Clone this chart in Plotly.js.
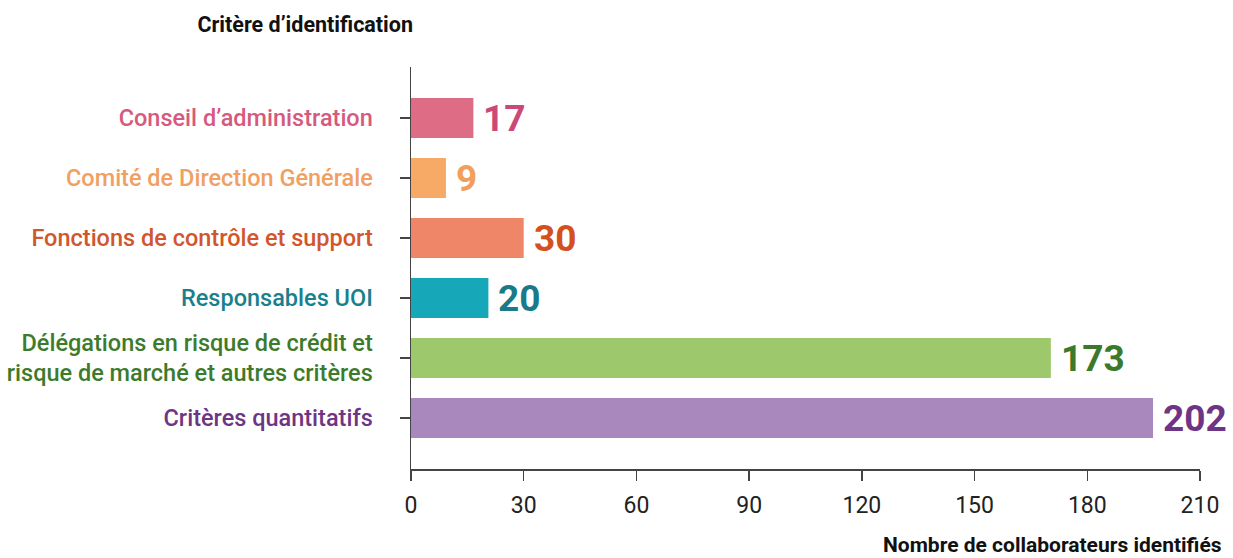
<!DOCTYPE html>
<html>
<head>
<meta charset="utf-8">
<script src="https://cdn.plot.ly/plotly-3.0.1.min.js"></script>
<style>html,body{margin:0;padding:0;background:#fff;}#chart{width:1233px;height:558px;}</style>
</head>
<body>
<div id="chart"></div>
<script>
// Categories (top to bottom)
var categories = [
  "Conseil d’administration",
  "Comité de Direction Générale",
  "Fonctions de contrôle et support",
  "Responsables UOI",
  "Délégations en risque de crédit et<br>risque de marché et autres critères",
  "Critères quantitatifs"
];
// Values printed next to each bar
var valueLabels = [17, 9, 30, 20, 173, 202];
// Bar lengths as drawn in the reference
var barLengths = [16.6, 9.3, 30, 20.6, 170.3, 197.5];
var xTicks = [0, 30, 60, 90, 120, 150, 180, 210];

var barColors = ["#dd6c84", "#f6aa66", "#ef8667", "#16a8b8", "#9dc86b", "#a988bd"];
var labelColors = ["#d55a7e", "#f0a063", "#d2562b", "#1a7f8e", "#3d7b2c", "#6e3585"];
var valueColors = ["#cc4878", "#f0a05c", "#d4511f", "#1a7a8a", "#3a7a2a", "#6e3585"];

var ticktext = categories.map(function (c, i) {
  return '<span style="color:' + labelColors[i] + '">' + c + '</span>';
});

var trace = {
  type: "bar",
  orientation: "h",
  y: categories,
  x: barLengths,
  marker: { color: barColors, line: { width: 0 } },
  hoverinfo: "skip"
};

var annotations = categories.map(function (c, i) {
  return {
    x: barLengths[i], y: c, xref: "x", yref: "y",
    text: String(valueLabels[i]),
    showarrow: false, xanchor: "left", yanchor: "middle", xshift: 8,
    font: { family: "Roboto", size: 37, color: valueColors[i], weight: 700 }
  };
});
annotations.push({
  xref: "paper", yref: "paper", x: 1, y: 0, xshift: 24, yshift: -76,
  xanchor: "right", yanchor: "middle", showarrow: false,
  text: "Nombre de collaborateurs identifiés",
  font: { family: "Roboto", size: 21, color: "#111", weight: 700 }
});

var layout = {
  width: 1233, height: 558,
  margin: { l: 411, r: 33, t: 67, b: 89, pad: 0 },
  paper_bgcolor: "#fff", plot_bgcolor: "#fff",
  showlegend: false,
  bargap: 0.333,
  title: {
    text: "Critère d’identification",
    font: { family: "Roboto", size: 21.5, color: "#111", weight: 700 },
    xref: "container", yref: "container", x: 413 / 1233, xanchor: "right",
    y: 1 - 24 / 558, yanchor: "middle"
  },
  xaxis: {
    range: [0, 210], tickvals: xTicks, ticktext: xTicks.map(String),
    showgrid: false, zeroline: false,
    showline: true, linecolor: "#444", linewidth: 1.5,
    ticks: "outside", ticklen: 10, tickwidth: 1.5, tickcolor: "#444",
    ticklabelstandoff: 5,
    tickfont: { family: "Roboto", size: 23, color: "#222" },
    fixedrange: true
  },
  yaxis: {
    type: "category",
    categoryorder: "array", categoryarray: categories,
    range: [5.85, -0.85],
    tickvals: categories, ticktext: ticktext,
    showgrid: false, zeroline: false,
    showline: true, linecolor: "#444", linewidth: 1.5,
    ticks: "outside", ticklen: 10, tickwidth: 1.5, tickcolor: "#444",
    ticklabelstandoff: 22,
    tickfont: { family: "Roboto", size: 23.5, weight: 500 },
    fixedrange: true
  },
  shapes: [{
    type: "line", xref: "x", yref: "paper", xsizemode: "pixel", xanchor: 0,
    x0: -10, x1: 0, y0: 1, y1: 1,
    line: { color: "#444", width: 1.5 }
  }],
  annotations: annotations
};

Plotly.newPlot("chart", [trace], layout, { staticPlot: true, displayModeBar: false });
</script>
</body>
</html>
